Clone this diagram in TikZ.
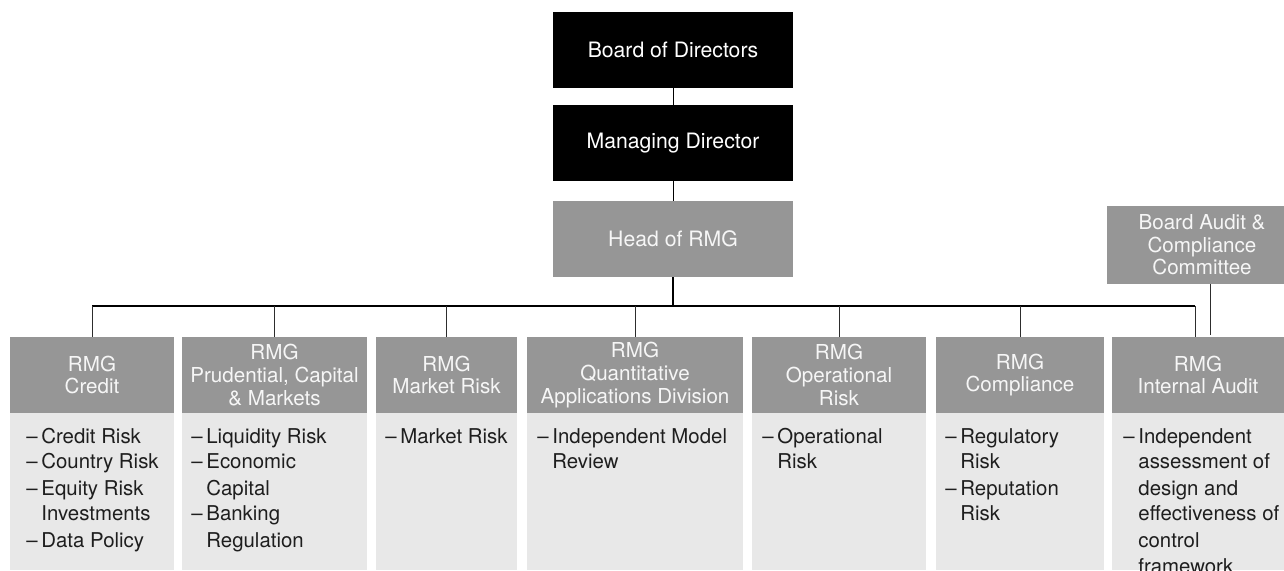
\documentclass[tikz,border=0pt]{standalone}
\usepackage{fontspec}
\setmainfont{TeX Gyre Heros}
\definecolor{hdr}{RGB}{150,150,150}
\definecolor{bdy}{RGB}{232,232,232}
\definecolor{htxt}{RGB}{246,246,246}
\definecolor{btxt}{RGB}{30,30,30}
\definecolor{dropc}{RGB}{45,45,45}
\newcommand\dsh{\makebox[7.5pt][l]{–}}
\newcommand\ind{\hspace*{7.5pt}}
\newcommand\blist[1]{\begin{tabular}[t]{@{}l@{}}#1\end{tabular}}
\begin{document}
\begin{tikzpicture}[x=0.5pt,y=-0.5pt,
  topbox/.style={fill=black,text=white,inner sep=0pt,minimum width=120pt,minimum height=38pt,
    font=\fontsize{10.6}{12}\selectfont},
  graybox/.style={fill=hdr,text=htxt,inner sep=0pt,align=center,
    font=\fontsize{10.3}{11.3}\selectfont},
  hdrbox/.style={graybox,minimum height=38pt},
  bodybox/.style={fill=bdy,inner sep=0pt,minimum height=78.5pt},
  bodytext/.style={anchor=base west,inner sep=0pt,text=btxt,
    font=\fontsize{10.2}{13}\selectfont},
  conn/.style={line width=0.5pt,black},
  bus/.style={line width=0.8pt,black},
  drop/.style={line width=0.5pt,dropc}]
\useasboundingbox (0,0) rectangle (1284,571);
\clip (0,0) rectangle (1284,571);

% top chain
\node[topbox] (bod) at (673,50) {Board of Directors};
\node[topbox] (md) at (673,143) {Managing Director};
\node[graybox,minimum width=120pt,minimum height=38pt,font=\fontsize{10.6}{12}\selectfont] (head) at (673,239) {Head of RMG};
\node[graybox,minimum width=95pt,minimum height=39pt] (audit) at (1202,245) {Board Audit \&\\Compliance\\Committee};

% headers
\node[hdrbox,minimum width=82pt]   (h1) at (92,375)    {RMG\\Credit};
\node[hdrbox,minimum width=92.5pt] (h2) at (274.5,375) {RMG\\Prudential, Capital\\\& Markets};
\node[hdrbox,minimum width=70.5pt] (h3) at (446.5,375) {RMG\\Market Risk};
\node[hdrbox,minimum width=108pt]  (h4) at (635,375)   {RMG\\Quantitative\\Applications Division};
\node[hdrbox,minimum width=87pt]   (h5) at (839,375)   {RMG\\Operational\\Risk};
\node[hdrbox,minimum width=84pt]   (h6) at (1020,375)  {RMG\\Compliance};
\node[hdrbox,minimum width=86pt]   (h7) at (1198,375)  {RMG\\Internal Audit};

% bodies
\node[bodybox,minimum width=82pt]   (b1) at (92,491.5)    {};
\node[bodybox,minimum width=92.5pt] (b2) at (274.5,491.5) {};
\node[bodybox,minimum width=70.5pt] (b3) at (446.5,491.5) {};
\node[bodybox,minimum width=108pt]  (b4) at (635,491.5)   {};
\node[bodybox,minimum width=87pt]   (b5) at (839,491.5)   {};
\node[bodybox,minimum width=84pt]   (b6) at (1020,491.5)  {};
\node[bodybox,minimum width=86pt]   (b7) at (1198,491.5)  {};

% body texts
\node[bodytext] (t1) at (26,443)  {\blist{\dsh Credit Risk\\\dsh Country Risk\\\dsh Equity Risk\\\ind Investments\\\dsh Data Policy}};
\node[bodytext] (t2) at (191,443) {\blist{\dsh Liquidity Risk\\\dsh Economic\\\ind Capital\\\dsh Banking\\\ind Regulation}};
\node[bodytext] (t3) at (385,443) {\blist{\dsh Market Risk}};
\node[bodytext] (t4) at (537,443) {\blist{\dsh Independent Model\\\ind Review}};
\node[bodytext] (t5) at (762,443) {\blist{\dsh Operational\\\ind Risk}};
\node[bodytext] (t6) at (945,443) {\blist{\dsh Regulatory\\\ind Risk\\\dsh Reputation\\\ind Risk}};
\node[bodytext] (t7) at (1123,443){\blist{\dsh Independent\\\ind assessment of\\\ind design and\\\ind effectiveness of\\\ind control\\\ind framework}};

% connectors
\coordinate (busL) at (92,306);
\coordinate (busR) at (1195,306);
\coordinate (ax) at (1210,0);
\draw[conn] (bod.south) -- (md.north);
\draw[conn] (md.south) -- (head.north);
\draw[bus] (head.south) -- (head.south |- busL);
\draw[bus] (busL) -- (busR);
\foreach \h in {h1,h2,h3,h4,h5,h6}
  \draw[drop] (\h.north |- busL) -- (\h.north);
\draw[drop] (busR) -- (busR |- h7.north);
\draw[drop] (audit.south -| ax) -- ([yshift=1pt]h7.north -| ax);
\end{tikzpicture}
\end{document}
